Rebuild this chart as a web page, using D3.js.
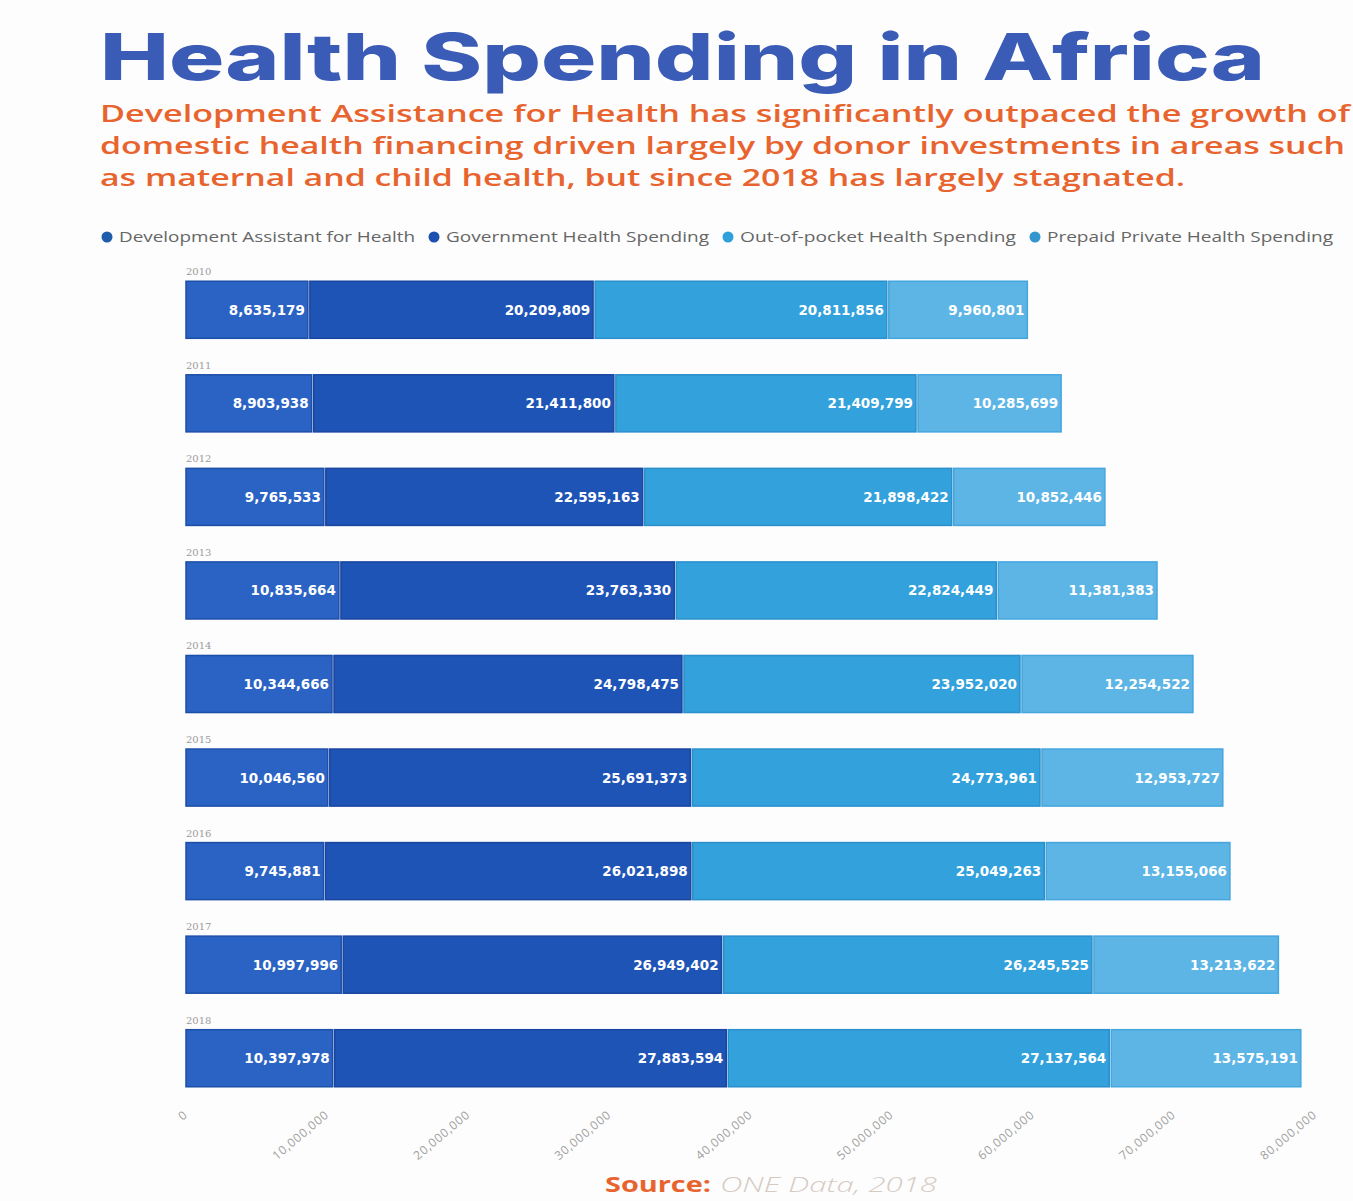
<!DOCTYPE html>
<html lang="en">
<head>
    <meta charset="utf-8" />
    <title>Health Spending in Africa</title>
    <script src="https://cdnjs.cloudflare.com/ajax/libs/d3/7.8.5/d3.min.js"></script>
    <style>
        body { margin: 0; background: #fdfdfd; }
        svg { display: block; font-family: "Open Sans", sans-serif; }
        .tick text { fill: #a0a0a0; }
    </style>
</head>
<body>
<script>
    // Data
    const years = ["2010", "2011", "2012", "2013", "2014", "2015", "2016", "2017", "2018"];
    const seriesNames = ["Development Assistant for Health", "Government Health Spending",
        "Out-of-pocket Health Spending", "Prepaid Private Health Spending"];
    const dah = [8635179, 8903938, 9765533, 10835664, 10344666, 10046560, 9745881, 10997996, 10397978];
    const gov = [20209809, 21411800, 22595163, 23763330, 24798475, 25691373, 26021898, 26949402, 27883594];
    const oop = [20811856, 21409799, 21898422, 22824449, 23952020, 24773961, 25049263, 26245525, 27137564];
    const prepaid = [9960801, 10285699, 10852446, 11381383, 12254522, 12953727, 13155066, 13213622, 13575191];
    const xTicks = [0, 10000000, 20000000, 30000000, 40000000, 50000000, 60000000, 70000000, 80000000];

    const fills = ["#2a63c3", "#1f54b7", "#32a1dc", "#5db5e6"];
    const strokes = ["#1d4fa8", "#1a45a0", "#2a8fcb", "#45a6de"];
    const dots = ["#1f5caa", "#1d4fb0", "#2ea0db", "#3496cf"];

    const W = 1353, H = 1201;
    const svg = d3.select("body").append("svg").attr("width", W).attr("height", H);

    // Title block
    svg.append("text")
        .attr("x", 100).attr("y", 80)
        .attr("textLength", 1165).attr("lengthAdjust", "spacingAndGlyphs")
        .style("font-family", "Inter, sans-serif")
        .style("font-weight", 800)
        .style("font-size", "64px")
        .style("fill", "#3a5bb6")
        .text("Health Spending in Africa");

    const subLines = [
        ["Development Assistance for Health has significantly outpaced the growth of", 1250],
        ["domestic health financing driven largely by donor investments in areas such", 1245],
        ["as maternal and child health, but since 2018 has largely stagnated.", 1085]
    ];
    subLines.forEach(([t, len], i) => {
        svg.append("text")
            .attr("x", 100).attr("y", 122 + i * 32)
            .attr("textLength", len).attr("lengthAdjust", "spacingAndGlyphs")
            .style("font-size", "23px")
            .style("font-weight", 600)
            .style("fill", "#e8642f")
            .text(t);
    });

    // Legend
    const legendX = [107, 434, 728, 1035];
    const legendLen = [296, 263, 276, 286];
    const legend = svg.append("g").attr("class", "legend");
    seriesNames.forEach((name, i) => {
        legend.append("circle")
            .attr("cx", legendX[i]).attr("cy", 237).attr("r", 5.5)
            .attr("fill", dots[i]);
        legend.append("text")
            .attr("x", legendX[i] + 12).attr("y", 242)
            .attr("textLength", legendLen[i]).attr("lengthAdjust", "spacingAndGlyphs")
            .style("font-size", "15px")
            .style("fill", "#666")
            .text(name);
    });

    // Scales
    const x = d3.scaleLinear().domain([0, 80000000]).range([186, 1315]);
    const y = d3.scaleBand().domain(years).range([281 - 18, 1087 + 18]).paddingInner(0.39).paddingOuter(0.195);

    const rows = years.map((yr, i) => ({ year: yr, values: [dah[i], gov[i], oop[i], prepaid[i]] }));
    const stackKeys = [0, 1, 2, 3];
    const stacked = d3.stack().keys(stackKeys).value((d, k) => d.values[k])(rows);

    const g = svg.append("g");

    // year labels
    g.selectAll(".year")
        .data(years)
        .join("text")
        .attr("class", "year")
        .attr("x", x(0))
        .attr("y", d => y(d) - 6)
        .style("font-size", "10px")
        .style("fill", "#9b9b9b")
        .style("font-family", "'DejaVu Serif', serif")
        .text(d => d);

    const layer = g.selectAll(".layer")
        .data(stacked)
        .join("g")
        .attr("class", "layer");

    layer.selectAll("rect")
        .data((s, i) => s.map(d => ({ d, i })))
        .join("rect")
        .attr("x", o => x(o.d[0]) + (o.i > 0 ? 2 : 0))
        .attr("y", o => y(o.d.data.year))
        .attr("width", o => x(o.d[1]) - x(o.d[0]) - (o.i > 0 ? 2 : 0))
        .attr("height", y.bandwidth())
        .attr("fill", o => fills[o.i])
        .attr("stroke", o => strokes[o.i])
        .attr("stroke-width", 1.5);

    layer.selectAll(".val")
        .data((s, i) => s.map(d => ({ d, i })))
        .join("text")
        .attr("class", "val")
        .attr("x", o => x(o.d[1]) - 3)
        .attr("y", o => y(o.d.data.year) + y.bandwidth() / 2 + 5)
        .attr("text-anchor", "end")
        .style("font-family", "'DejaVu Sans', sans-serif")
        .style("font-weight", "bold")
        .style("font-size", "13.5px")
        .style("fill", "#fff")
        .text(o => d3.format(",")(o.d.data.values[o.i]));

    // x axis
    const xAxis = d3.axisBottom(x).tickValues(xTicks).tickFormat(d3.format(",")).tickSize(0);
    const gx = svg.append("g").attr("transform", "translate(2,1116)").call(xAxis);
    gx.select(".domain").remove();
    gx.selectAll("text")
        .attr("dy", 0).attr("y", 0)
        .attr("text-anchor", "end")
        .attr("transform", "rotate(-40)")
        .style("font-size", "12px")
        .style("letter-spacing", "0.8px")
        .style("font-family", "'Open Sans', sans-serif");

    // Source
    svg.append("text").attr("x", 605).attr("y", 1192)
        .attr("textLength", 106).attr("lengthAdjust", "spacingAndGlyphs")
        .style("font-size", "21px").style("font-weight", 700).style("fill", "#e8642f")
        .text("Source:");
    svg.append("text").attr("x", 720).attr("y", 1192)
        .attr("textLength", 217).attr("lengthAdjust", "spacingAndGlyphs")
        .style("font-size", "21px").style("font-style", "italic").style("font-weight", 300)
        .style("fill", "#d6cbc3")
        .text("ONE Data, 2018");
</script>
</body>
</html>
